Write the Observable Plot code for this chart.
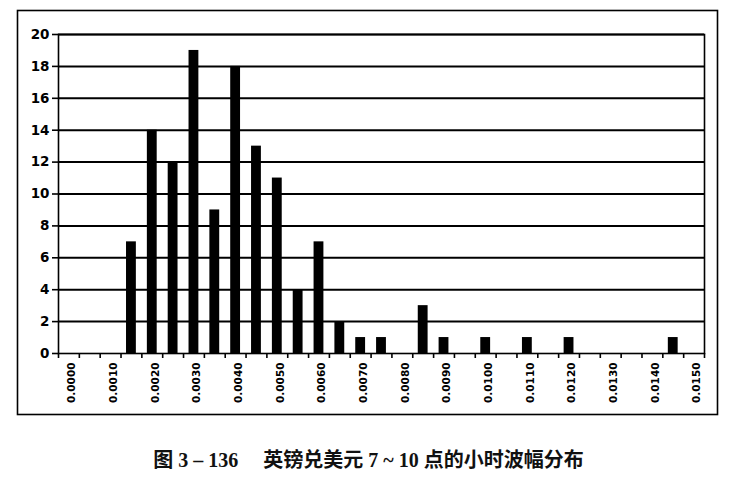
<!DOCTYPE html>
<html>
<head>
<meta charset="utf-8">
<script src="https://cdn.jsdelivr.net/npm/d3@7"></script>
<script src="https://cdn.jsdelivr.net/npm/@observablehq/plot@0.6"></script>
<style>
  html, body { margin: 0; padding: 0; background: white; }
  #chart svg { display: block; }
  #caption {
    width: 745px; text-align: center; margin-top: 8px; height: 24px; line-height: 24px;
    font-family: "Liberation Serif", "Noto Sans CJK SC", serif; font-weight: bold; font-size: 20px;
    color: #111; box-sizing: border-box; padding-right: 8px; white-space: pre;
  }
</style>
</head>
<body>
<div id="chart"></div>
<div id="caption">图 3 – 136　 英镑兑美元 7 ~ 10 点的小时波幅分布</div>
<script>
const categories = ["0.0000","0.0005","0.0010","0.0015","0.0020","0.0025","0.0030","0.0035","0.0040","0.0045",
  "0.0050","0.0055","0.0060","0.0065","0.0070","0.0075","0.0080","0.0085","0.0090","0.0095",
  "0.0100","0.0105","0.0110","0.0115","0.0120","0.0125","0.0130","0.0135","0.0140","0.0145","0.0150"];
const counts = [0,0,0,7,14,12,19,9,18,13,11,4,7,2,1,1,0,3,1,0,1,0,1,0,1,0,0,0,0,1,0];
const xTickLabels = ["0.0000","0.0010","0.0020","0.0030","0.0040","0.0050","0.0060","0.0070",
  "0.0080","0.0090","0.0100","0.0110","0.0120","0.0130","0.0140","0.0150"];
const yTicks = [0,2,4,6,8,10,12,14,16,18,20];
const gridValues = [2,4,6,8,10,12,14,16,18,20];

const table = categories.map((c, i) => ({cat: c, count: counts[i]}));

const W = 745, H = 440, mL = 58, mR = 41, mT = 34, mB = 87;
const bw = (W - mL - mR) / categories.length;

const chart = Plot.plot({
  width: W, height: H,
  marginLeft: mL, marginRight: mR, marginTop: mT, marginBottom: mB,
  x: {type: "band", domain: categories, paddingInner: 0, paddingOuter: 0, round: false, label: null},
  y: {domain: [0, 20], label: null},
  style: {background: "white", color: "black", fontFamily: "DejaVu Sans", fontWeight: "bold", overflow: "visible"},
  marks: [
    Plot.ruleY(gridValues, {y: d => d, stroke: "black", strokeWidth: 2}),
    Plot.barY(table, {x: "cat", y: "count", fill: "black", insetLeft: 5.5, insetRight: 5.5}),
    Plot.frame({stroke: "black", strokeWidth: 1.6}),
    Plot.frame({stroke: "black", strokeWidth: 1.6, insetLeft: -41, insetTop: -24, insetRight: -13, insetBottom: -61}),
    Plot.axisY({ticks: yTicks, tickSize: 6, tickPadding: 3, fontSize: 13.5, strokeWidth: 1.6, label: null}),
    Plot.axisX({ticks: categories, tickFormat: () => "", tickSize: 5, dx: -bw / 2, strokeWidth: 1.6, label: null}),
    Plot.axisX({ticks: [categories[categories.length - 1]], tickFormat: () => "", tickSize: 5, dx: bw / 2, strokeWidth: 1.6, label: null}),
    Plot.axisX({ticks: xTickLabels, tickSize: 0, tickPadding: 9, tickRotate: -90, fontSize: 10.5, dx: 3, label: null})
  ]
});
document.getElementById("chart").appendChild(chart);
</script>
</body>
</html>
